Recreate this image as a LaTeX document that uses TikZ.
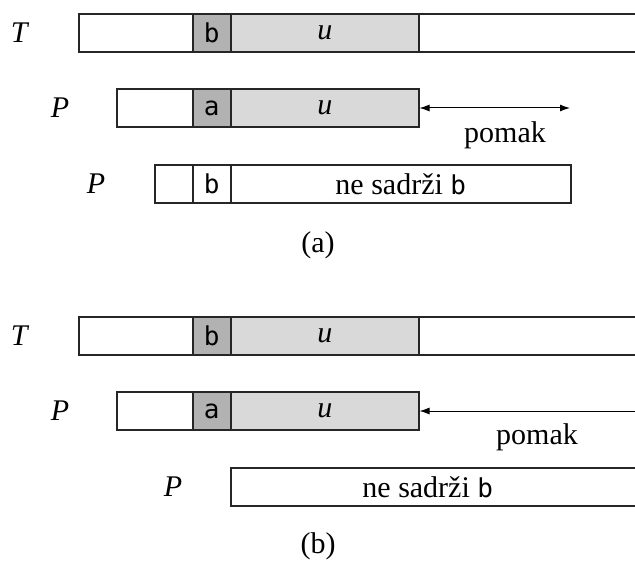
\documentclass[tikz,border=0pt]{standalone}
\usepackage{fontspec}
\setmainfont{Liberation Serif}
\setmonofont{DejaVu Sans Mono}
\usetikzlibrary{arrows.meta}
\newcommand\sym[1]{{\ttfamily\fontsize{13}{15}\selectfont #1}}
\begin{document}
\begin{tikzpicture}[x=0.5pt,y=-0.5pt,
  every node/.style={font=\fontsize{15}{18}\selectfont},
  cell/.style={draw=black!85, line width=0.75pt, minimum height=19pt, inner sep=0pt, anchor=west},
  dark/.style={fill=black!30},
  light/.style={fill=black!15},
  movearrow/.style={line width=0.5pt, -{Latex[length=5pt,width=3.5pt]}}]
\useasboundingbox (0,0) rectangle (635,561);
% (a)
\node (Ta) at (20,33) {\textit{T}};
\node[cell, minimum width=57pt] (Ta0) at (78,33) {};
\node[cell, dark, minimum width=19pt] (Tab) at (192,33) {\sym{b}};
\node[cell, light, minimum width=94pt] (Tau) at (230,33) {\textit{u}};
\node[cell, minimum width=110pt] (Ta1) at (418,33) {};
\node (Pa) at (60,108) {\textit{P}};
\node[cell, minimum width=38pt] (Pa0) at (116,108) {};
\node[cell, dark, minimum width=19pt] (Paa) at (192,108) {\sym{a}};
\node[cell, light, minimum width=94pt] (Pau) at (230,108) {\textit{u}};
\coordinate (Paend) at (570,108);
\draw[movearrow, {Latex[length=5pt,width=3.5pt]}-{Latex[length=5pt,width=3.5pt]}] (Pau.east) -- (Paend);
\node (pomaka) at (505,135) {pomak};
\node (Qa) at (96,184) {\textit{P}};
\node[cell, minimum width=19pt] (Qa0) at (154,184) {};
\node[cell, minimum width=19pt] (Qab) at (192,184) {\sym{b}};
\node[cell, minimum width=170pt] (Qa1) at (230,184) {ne sadrži \sym{b}};
\node (capa) at (318,245) {(a)};
% (b)
\node (Tb) at (20,336) {\textit{T}};
\node[cell, minimum width=57pt] (Tb0) at (78,336) {};
\node[cell, dark, minimum width=19pt] (Tbb) at (192,336) {\sym{b}};
\node[cell, light, minimum width=94pt] (Tbu) at (230,336) {\textit{u}};
\node[cell, minimum width=110pt] (Tb1) at (418,336) {};
\node (Pb) at (60,411) {\textit{P}};
\node[cell, minimum width=38pt] (Pb0) at (116,411) {};
\node[cell, dark, minimum width=19pt] (Pba) at (192,411) {\sym{a}};
\node[cell, light, minimum width=94pt] (Pbu) at (230,411) {\textit{u}};
\coordinate (Pbend) at (640,411);
\draw[movearrow] (Pbend) -- (Pbu.east);
\node (pomakb) at (537,437) {pomak};
\node (Qb) at (173,487) {\textit{P}};
\node[cell, minimum width=205pt] (Qb1) at (230,487) {\hspace*{-8pt}ne sadrži \sym{b}};
\node (capb) at (318,546) {(b)};
\end{tikzpicture}
\end{document}
